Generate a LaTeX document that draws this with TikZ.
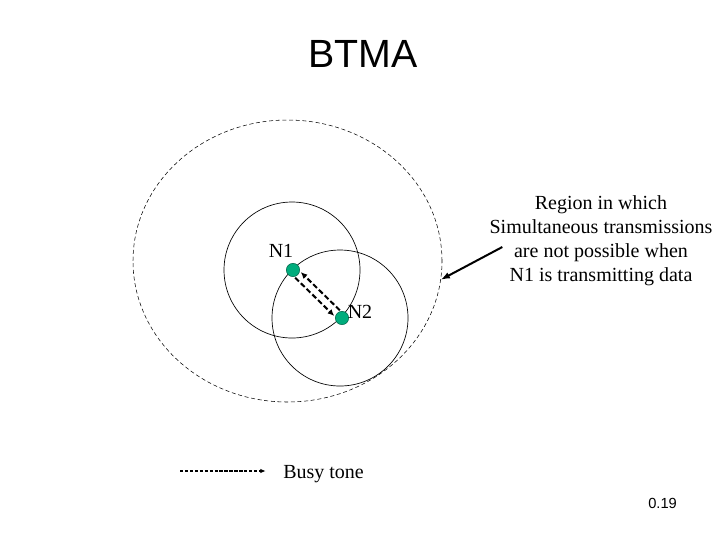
\documentclass[tikz,border=0pt]{standalone}
\usepackage{fontspec}
\setmainfont{Liberation Serif}
\newfontfamily\arialfont{Liberation Sans}
\usepackage{xcolor}
\usepackage{tikz}
\usetikzlibrary{shapes.geometric, positioning, arrows.meta, calc}

\definecolor{dotgreen}{RGB}{0,172,124}

\begin{document}
\begin{tikzpicture}[
  x=0.75pt, y=-0.75pt,
  >=Latex,
  zone/.style={draw, dashed, dash pattern=on 3pt off 2pt, ellipse, inner sep=0pt, outer sep=0pt, minimum width=231.75pt, minimum height=211.5pt},
  cover/.style={draw, circle, inner sep=0pt, outer sep=0pt, minimum size=102pt, line width=0.5pt},
  station/.style={draw=dotgreen!60!black, circle, fill=dotgreen, inner sep=0pt, minimum size=10pt, line width=0.4pt},
  lbl/.style={font=\fontsize{15}{18}\selectfont, inner sep=0pt},
  tone/.style={->, dashed, dash pattern=on 4pt off 2pt, line width=1.5pt, >={Latex[length=5pt,width=4.5pt]}},
  pointer/.style={->, line width=1.5pt, >={Latex[length=7pt,width=5pt]}},
  legend/.style={->, dashed, dash pattern=on 2.5pt off 1.2pt, line width=0.8pt, >={Latex[length=4pt,width=3.5pt]}}
]
  \useasboundingbox (0,0) rectangle (720,540);

  \node[font=\arialfont\fontsize{29.5}{34}\selectfont, inner sep=0pt] (title) at (363,54) {BTMA};

  \node[zone] (zone) at (287.5,261) {};
  \node[cover] (c1) at (292,270) {};
  \node[cover] (c2) at (340,318) {};

  \node[station] (n1) at (293,270) {};
  \node[station] (n2) at (342,318) {};
  \node[lbl] (n1lbl) at (281,251) {N1};
  \node[lbl] (n2lbl) at (360,312) {N2};

  \draw[tone, transform canvas={shift={(2.8,-2.8)}}] (n2) -- (n1);
  \draw[tone, transform canvas={shift={(-2.8,2.8)}}] (n1) -- (n2);

  \node[lbl, align=center] (region) at (601,241) {Region in which\\Simultaneous transmissions\\are not possible when\\N1 is transmitting data};
  \draw[pointer] ([shift={(13,6)}]region.west) -- (zone.-7);

  % legend
  \coordinate (legstart) at (180,471);
  \node[lbl, anchor=base west] (busy) at (283,478) {Busy tone};
  \draw[legend] (legstart) -- ([xshift=-13]busy.west |- legstart);

  \node[font=\arialfont\fontsize{11}{13}\selectfont, inner sep=0pt, anchor=base west] (page) at (648,508) {0.19};
\end{tikzpicture}
\end{document}
